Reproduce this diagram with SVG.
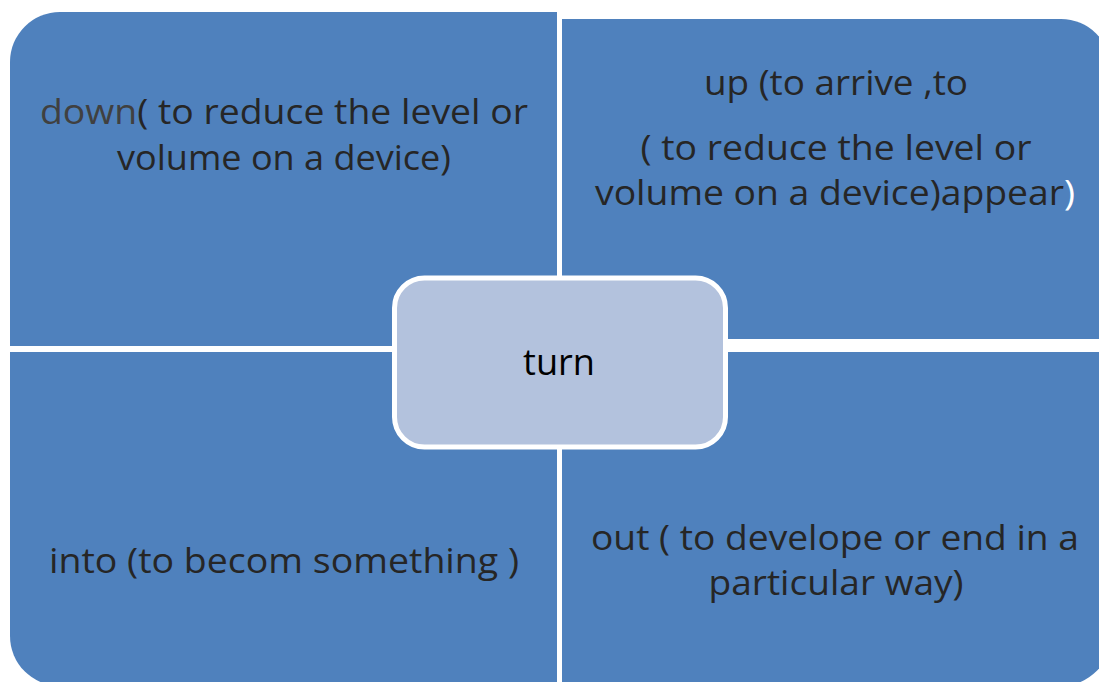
<svg xmlns="http://www.w3.org/2000/svg" width="1099" height="682" viewBox="0 0 1099 682">
  <style>
    .quad { fill: #4F81BD; }
    .hub { fill: #B3C2DD; stroke: #FFFFFF; stroke-width: 5; }
    .lbl { font-family: "Open Sans", "Liberation Sans", sans-serif; font-size: 35px; fill: #262626; text-anchor: middle; }
    .hubtxt { font-family: "Open Sans", "Liberation Sans", sans-serif; font-size: 36px; fill: #000000; text-anchor: middle; }
  </style>
  <rect width="1099" height="682" fill="#FFFFFF"/>

  <!-- top-left quadrant: down -->
  <g id="node-down">
    <path class="quad" d="M10,346 V62 A50,50 0 0 1 60,12 H557 V346 Z"/>
    <text class="lbl" x="284" y="124" textLength="488" lengthAdjust="spacingAndGlyphs"><tspan fill="#404040">down</tspan>( to reduce the level or</text>
    <text class="lbl" x="284" y="170" textLength="334" lengthAdjust="spacingAndGlyphs">volume on a device)</text>
  </g>

  <!-- top-right quadrant: up -->
  <g id="node-up">
    <path class="quad" d="M562,339 V19 H1061 A50,50 0 0 1 1111,69 V339 Z"/>
    <text class="lbl" x="836" y="95" textLength="264" lengthAdjust="spacingAndGlyphs">up (to arrive ,to</text>
    <text class="lbl" x="836" y="160" textLength="391" lengthAdjust="spacingAndGlyphs">( to reduce the level or</text>
    <text class="lbl" x="835" y="205" textLength="480" lengthAdjust="spacingAndGlyphs">volume on a device)appear<tspan fill="#FFFFFF">)</tspan></text>
  </g>

  <!-- bottom-left quadrant: into -->
  <g id="node-into">
    <path class="quad" d="M10,352 H557 V686 H60 A50,50 0 0 1 10,636 Z"/>
    <text class="lbl" x="284" y="573" textLength="470" lengthAdjust="spacingAndGlyphs">into (to becom something )</text>
  </g>

  <!-- bottom-right quadrant: out -->
  <g id="node-out">
    <path class="quad" d="M562,352 H1111 V636 A50,50 0 0 1 1061,686 H562 Z"/>
    <text class="lbl" x="835" y="550" textLength="488" lengthAdjust="spacingAndGlyphs">out ( to develope or end in a</text>
    <text class="lbl" x="836" y="595" textLength="255" lengthAdjust="spacingAndGlyphs">particular way)</text>
  </g>

  <!-- central hub -->
  <g id="node-turn">
    <rect class="hub" x="394.5" y="278" width="331" height="169" rx="30" ry="30"/>
    <text class="hubtxt" x="559" y="375" textLength="72" lengthAdjust="spacingAndGlyphs">turn</text>
  </g>
</svg>
